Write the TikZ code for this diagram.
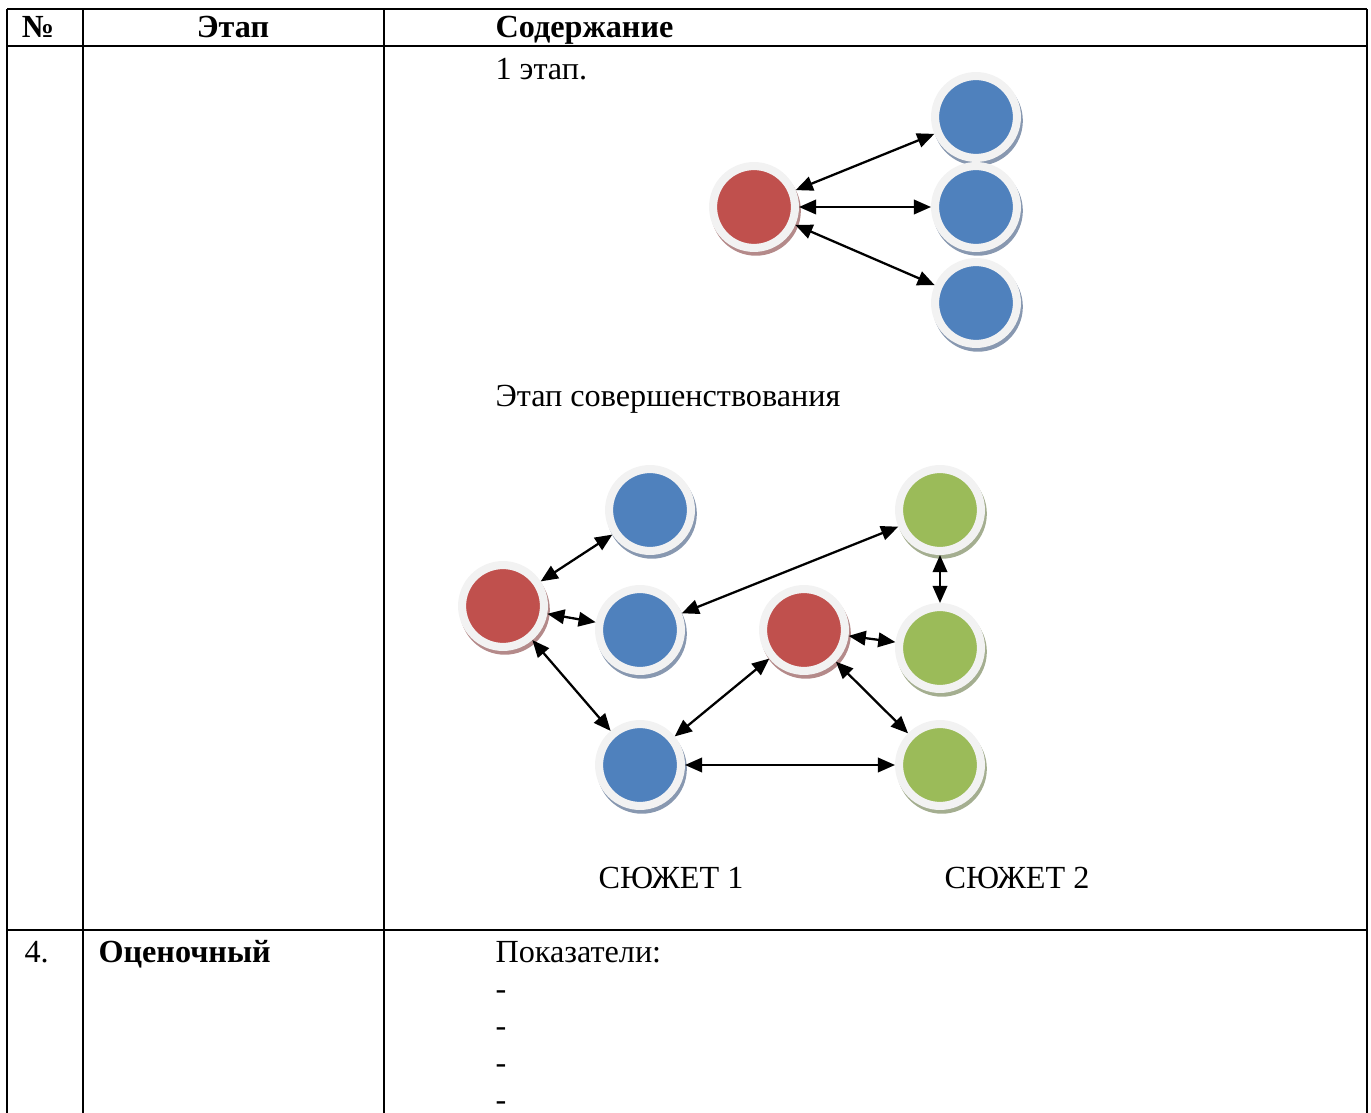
\documentclass[tikz,border=0pt]{standalone}
\usepackage{fontspec}
\setmainfont{Liberation Serif}
\usepackage{tikz}
\usetikzlibrary{arrows.meta,shadows}

\definecolor{dotred}{HTML}{C0504D}
\definecolor{dotblue}{HTML}{4F81BD}
\definecolor{dotgreen}{HTML}{9BBB59}
\definecolor{ringgray}{HTML}{F2F2F2}
\definecolor{shred}{HTML}{B48A8A}
\definecolor{shblue}{HTML}{8898B0}
\definecolor{shgreen}{HTML}{A4AE90}

\begin{document}
\begin{tikzpicture}[x=0.37254pt, y=-0.37254pt,
  tbl/.style={line width=1pt},
  txt/.style={inner sep=0pt, anchor=base west, font=\fontsize{12pt}{14pt}\selectfont},
  dot/.style={circle, minimum size=30.5pt, inner sep=0pt, draw=ringgray, line width=3pt,
    drop shadow={shadow xshift=0.7pt, shadow yshift=-1.4pt, opacity=1, fill=#1, draw=#1, line width=3pt}},
  reddot/.style={dot=shred, fill=dotred},
  bluedot/.style={dot=shblue, fill=dotblue},
  greendot/.style={dot=shgreen, fill=dotgreen},
  link/.style={{Triangle[length=6.4pt,width=5.4pt]}-{Triangle[length=6.4pt,width=5.4pt]}, line width=0.85pt}]

\useasboundingbox (0,0) rectangle (1371,1113);

% table
\draw[tbl] (7,9) -- (1367,9);
\draw[tbl] (7,46) -- (1367,46);
\draw[tbl] (7,930) -- (1367,930);
\foreach \x in {7,83,384,1367} \draw[tbl] (\x,9) -- (\x,1113);

\node[txt, anchor=base] (hnum) at (38,38) {\bfseries №};
\node[txt, anchor=base] (hstage) at (233,38) {\bfseries Этап};
\node[txt] (hcontent) at (495,38) {\bfseries Содержание};

% 1 stage
\node[txt] (stageone) at (495,80) {1 этап.};

\node[reddot] (r1) at (754,207) {};
\node[bluedot] (b1) at (976,117) {};
\node[bluedot] (b2) at (976,207) {};
\node[bluedot] (b3) at (976,303) {};

\draw[link] (r1) -- (b1);
\draw[link] (r1) -- (b2);
\draw[link] (r1) -- (b3);

% improvement stage
\node[txt] (improve) at (495,407) {Этап совершенствования};

\node[reddot] (ra) at (503,606) {};
\node[bluedot] (ba) at (650,510) {};
\node[bluedot] (bb) at (640,630) {};
\node[bluedot] (bc) at (640,765) {};
\node[reddot] (rb) at (804,630) {};
\node[greendot] (ga) at (940,510) {};
\node[greendot] (gb) at (940,648) {};
\node[greendot] (gc) at (940,765) {};

\draw[link] (ra) -- (ba);
\draw[link] (ra) -- (bb);
\draw[link] (ra) -- (bc);
\draw[link] (bb) -- (ga);
\draw[link] (bc) -- (rb);
\draw[link] (bc) -- (gc);
\draw[link] (rb) -- (gb);
\draw[link] (rb) -- (gc);
\draw[link] (ga) -- (gb);

\node[txt, anchor=base] (plot1) at (671,888) {СЮЖЕТ 1};
\node[txt, anchor=base] (plot2) at (1017,888) {СЮЖЕТ 2};

% row 4
\node[txt] (rownum) at (24,962) {4.};
\node[txt] (rowname) at (98,962) {\bfseries Оценочный};
\node[txt] (measures) at (495,962) {Показатели:};
\foreach \i in {1,...,4}
  \node[txt] (dash\i) at (495,962+37*\i) {-};

\end{tikzpicture}
\end{document}
